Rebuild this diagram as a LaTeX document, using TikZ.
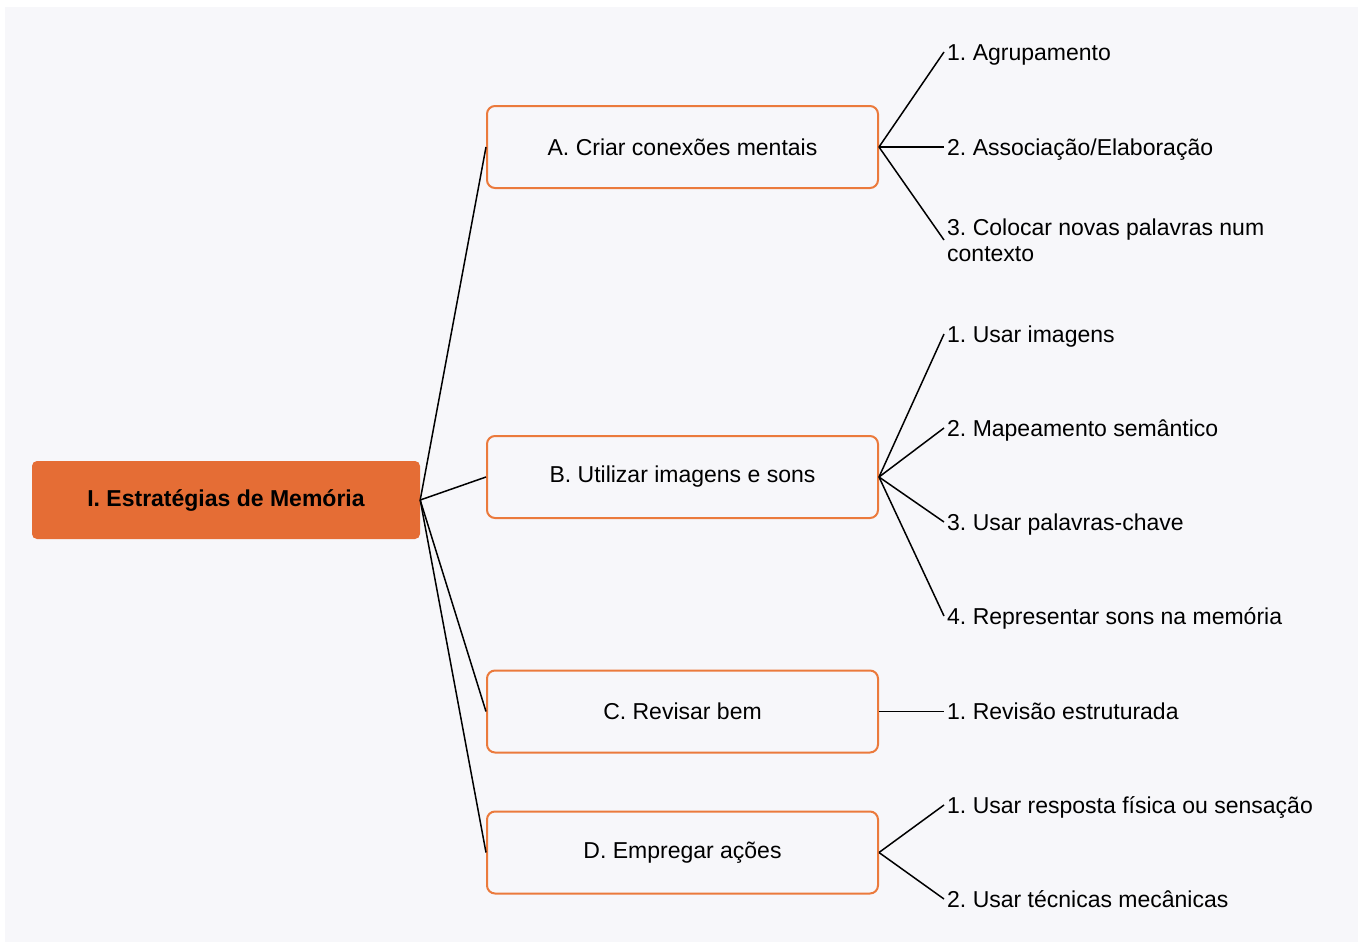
\documentclass[tikz,border=0pt]{standalone}
\usepackage{fontspec}
\setmainfont{Liberation Sans}
\frenchspacing
\definecolor{panel}{HTML}{F7F7FA}
\definecolor{rootfill}{HTML}{E56D35}
\definecolor{boxline}{HTML}{EB7A3C}
\begin{document}
\begin{tikzpicture}[x=1pt,y=-1pt,
  rootbox/.style={draw=none, fill=rootfill, rounded corners=5pt,
    minimum width=388pt, minimum height=78pt, inner sep=0pt,
    font=\fontsize{23}{26}\selectfont\bfseries},
  topicbox/.style={draw=boxline, line width=2pt, fill=panel, rounded corners=8pt,
    minimum width=391pt, minimum height=82pt, inner sep=0pt,
    font=\fontsize{23}{26}\selectfont},
  leaf/.style={anchor=west, inner xsep=3pt, inner ysep=0pt, align=left,
    font=\fontsize{23}{26}\selectfont},
  oneline/.style={text height=16.5pt, text depth=0pt},
  link/.style={draw=black, line width=1.5pt}]
  \useasboundingbox (0,0) rectangle (1358,943);
  \fill[white] (0,0) rectangle (1358,943);
  \fill[panel] (5,7) rectangle (1358,942);

  % central topic
  \node[rootbox] (root) at (226,500) {I. Estratégias de Memória};

  % main branches
  \node[topicbox] (A) at (682.5,147) {A. Criar conexões mentais};
  \node[topicbox] (B) at (682.5,477) {B. Utilizar imagens e sons};
  \node[topicbox] (C) at (682.5,711.5) {C. Revisar bem};
  \node[topicbox] (D) at (682.5,852.5) {D. Empregar ações};

  % sub-items
  \node[leaf,oneline] (a1) at (944,52) {1. Agrupamento};
  \node[leaf,oneline] (a2) at (944,147) {2. Associação/Elaboração};
  \node[leaf] (a3) at (944,240) {3. Colocar novas palavras num\\contexto};

  \node[leaf,oneline] (b1) at (944,334) {1. Usar imagens};
  \node[leaf,oneline] (b2) at (944,428) {2. Mapeamento semântico};
  \node[leaf,oneline] (b3) at (944,522) {3. Usar palavras-chave};
  \node[leaf,oneline] (b4) at (944,616) {4. Representar sons na memória};

  \node[leaf,oneline] (c1) at (944,711.5) {1. Revisão estruturada};

  \node[leaf,oneline] (d1) at (944,805) {1. Usar resposta física ou sensação};
  \node[leaf,oneline] (d2) at (944,899) {2. Usar técnicas mecânicas};

  % connectors
  \foreach \t in {A,B,C,D} \draw[link] (root.east) -- (\t.west);
  \foreach \t in {a1,a2,a3} \draw[link] (A.east) -- (\t.west);
  \foreach \t in {b1,b2,b3,b4} \draw[link] (B.east) -- (\t.west);
  \draw[link] (C.east) -- (c1.west);
  \foreach \t in {d1,d2} \draw[link] (D.east) -- (\t.west);
\end{tikzpicture}
\end{document}
